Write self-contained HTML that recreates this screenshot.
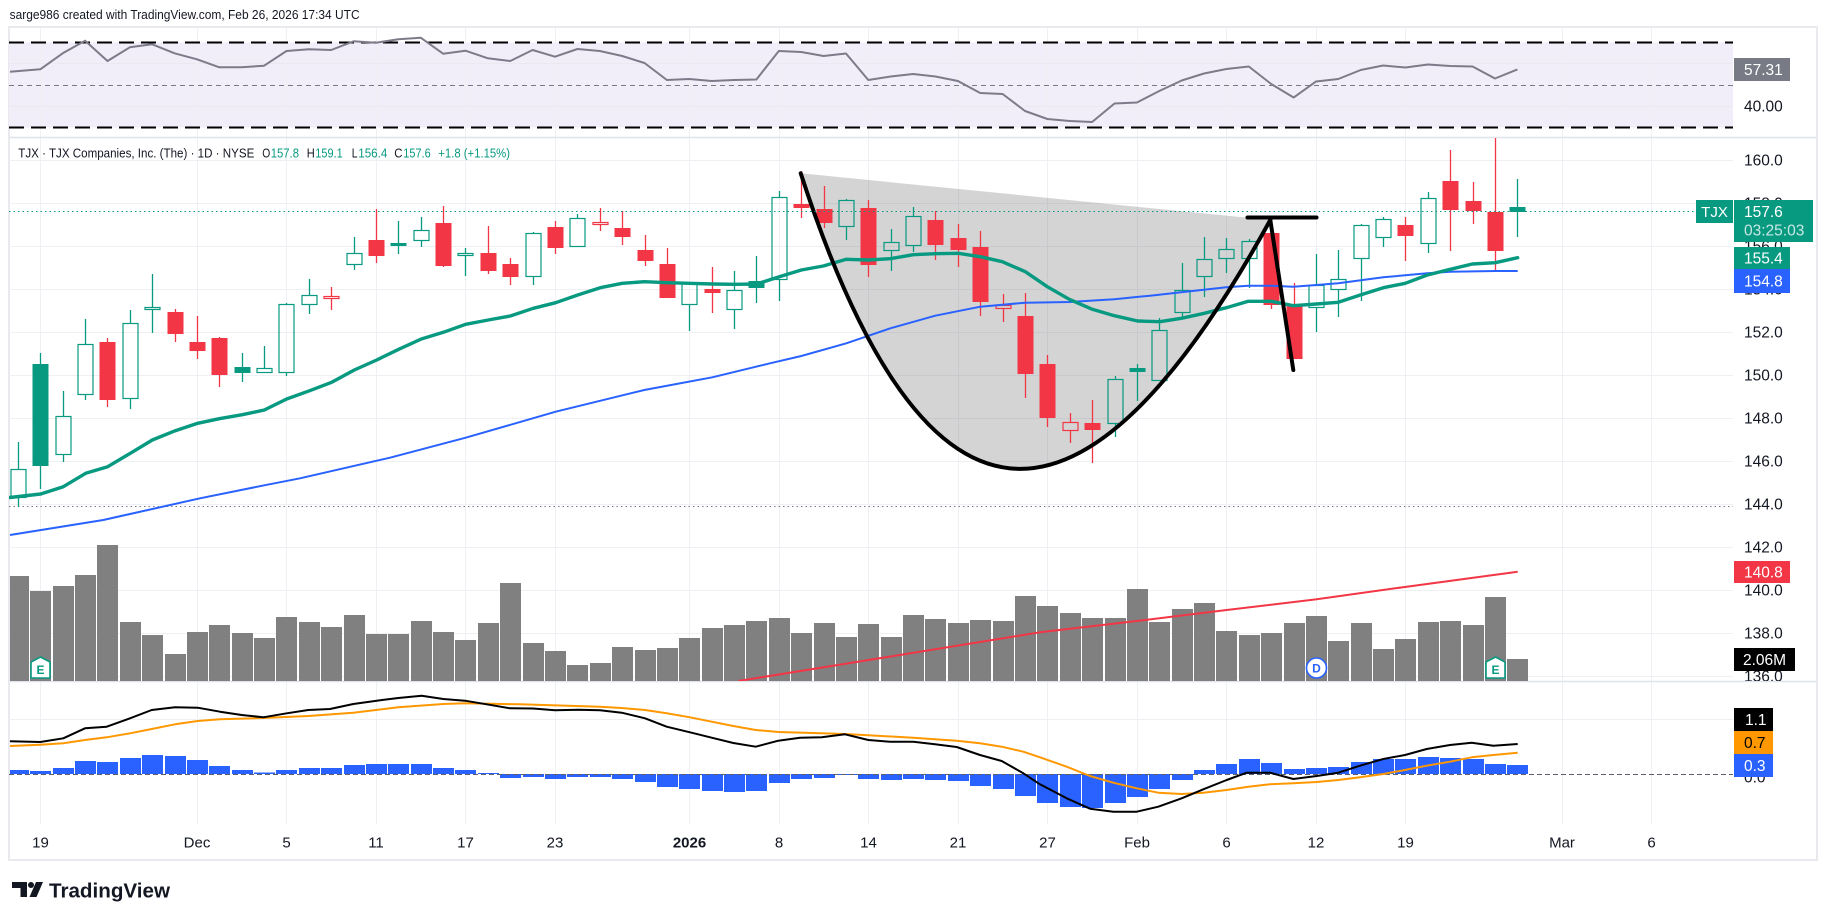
<!DOCTYPE html>
<html>
<head>
<meta charset="utf-8">
<style>
  html,body{margin:0;padding:0;background:#ffffff;}
  svg{display:block;}
  text{font-family:"Liberation Sans",Arial,sans-serif;}
</style>
</head>
<body>
<svg width="1827" height="920" viewBox="0 0 1827 920" xmlns="http://www.w3.org/2000/svg">
  <defs>
    <clipPath id="cRsi"><rect x="9" y="27" width="1724" height="110"/></clipPath>
    <clipPath id="cMain"><rect x="9" y="137" width="1724" height="544"/></clipPath>
    <clipPath id="cMacd"><rect x="9" y="681" width="1724" height="143"/></clipPath>
    <clipPath id="cAxisMain"><rect x="1734" y="137" width="82" height="544"/></clipPath>
  </defs>
  <rect x="0" y="0" width="1827" height="920" fill="#ffffff"/>

  <!-- top caption -->
  <text x="9.6" y="19" font-size="13" fill="#131722" textLength="350" lengthAdjust="spacingAndGlyphs">sarge986 created with TradingView.com, Feb 26, 2026 17:34 UTC</text>

  <!-- chart frame -->
  <rect x="9" y="27" width="1808" height="833" fill="#ffffff" stroke="#e9eaee" stroke-width="2"/>

  <!-- RSI band -->
  <g clip-path="url(#cRsi)">
    <rect x="9" y="42.5" width="1724" height="85" fill="#f2eef9"/>
    <g stroke="#ebe8f0" stroke-width="1">
      <line x1="9" y1="63.5" x2="1733" y2="63.5"/>
      <line x1="9" y1="106.5" x2="1733" y2="106.5"/>
    </g>
  </g>

  <!-- vertical grid lines -->
  <g stroke="#eef0f4" stroke-width="1">
    <line x1="40.5" y1="28" x2="40.5" y2="824"/>
    <line x1="197.5" y1="28" x2="197.5" y2="824"/>
    <line x1="286.5" y1="28" x2="286.5" y2="824"/>
    <line x1="376.5" y1="28" x2="376.5" y2="824"/>
    <line x1="465.5" y1="28" x2="465.5" y2="824"/>
    <line x1="555.5" y1="28" x2="555.5" y2="824"/>
    <line x1="689.5" y1="28" x2="689.5" y2="824"/>
    <line x1="779.5" y1="28" x2="779.5" y2="824"/>
    <line x1="868.5" y1="28" x2="868.5" y2="824"/>
    <line x1="958.5" y1="28" x2="958.5" y2="824"/>
    <line x1="1047.5" y1="28" x2="1047.5" y2="824"/>
    <line x1="1137.5" y1="28" x2="1137.5" y2="824"/>
    <line x1="1226.5" y1="28" x2="1226.5" y2="824"/>
    <line x1="1316.5" y1="28" x2="1316.5" y2="824"/>
    <line x1="1405.5" y1="28" x2="1405.5" y2="824"/>
    <line x1="1562.5" y1="28" x2="1562.5" y2="824"/>
    <line x1="1651.5" y1="28" x2="1651.5" y2="824"/>
  </g>
  <!-- horizontal price grid -->
  <g stroke="#eef0f4" stroke-width="1">
    <line x1="9" y1="160.5" x2="1733" y2="160.5"/>
    <line x1="9" y1="203.5" x2="1733" y2="203.5"/>
    <line x1="9" y1="246.5" x2="1733" y2="246.5"/>
    <line x1="9" y1="289.5" x2="1733" y2="289.5"/>
    <line x1="9" y1="332.5" x2="1733" y2="332.5"/>
    <line x1="9" y1="375.5" x2="1733" y2="375.5"/>
    <line x1="9" y1="418.5" x2="1733" y2="418.5"/>
    <line x1="9" y1="461.5" x2="1733" y2="461.5"/>
    <line x1="9" y1="504.5" x2="1733" y2="504.5"/>
    <line x1="9" y1="547.5" x2="1733" y2="547.5"/>
    <line x1="9" y1="590.5" x2="1733" y2="590.5"/>
    <line x1="9" y1="633.5" x2="1733" y2="633.5"/>
    <line x1="9" y1="676.5" x2="1733" y2="676.5"/>
    <line x1="9" y1="719.5" x2="1733" y2="719.5"/>
  </g>

  <!-- RSI lines -->
  <g clip-path="url(#cRsi)">
    <line x1="9" y1="42.5" x2="1733" y2="42.5" stroke="#000" stroke-width="2" stroke-dasharray="15 7"/>
    <line x1="9" y1="127.5" x2="1733" y2="127.5" stroke="#000" stroke-width="2" stroke-dasharray="15 7"/>
    <line x1="9" y1="85.5" x2="1733" y2="85.5" stroke="#787b86" stroke-width="1" stroke-dasharray="5 4"/>
    <polyline fill="none" stroke="#7d7b89" stroke-width="2" stroke-linejoin="round"
      points="10,71.7 40.3,69.3 62.7,53.3 85.1,40.7 107.5,61 129.8,47.3 152.2,44.3 174.6,53.3 197,59.3 219.3,67.3 241.7,67.3 264.1,65.7 286.5,51 308.9,49.3 331.2,50 353.6,41.3 376,42.7 398.4,39.3 420.7,37.7 443.1,53.7 465.5,50.7 487.9,58.3 510.3,61 532.6,50 555,56.7 577.4,49 599.8,51 622.2,56 644.5,63 666.9,80 689.3,79 711.7,81 734.1,80 756.4,79.5 778.8,51 801.2,52 823.6,56 846,53.5 868.3,80 890.7,76.5 913.1,74 935.5,76.5 957.9,81 980.2,93 1002.6,94 1025,111 1047.4,119 1069.8,121 1092.1,122 1114.5,103.5 1136.9,102.5 1159.3,91 1181.7,80.5 1204,73.5 1226.4,69 1248.8,66.5 1271.2,84 1293.6,97.5 1315.9,81.5 1338.3,79 1360.7,70 1383.1,65.5 1405.5,67.5 1427.8,64.5 1450.2,66 1472.6,66.5 1495,78.5 1517.4,69.4"/>
  </g>

  <!-- pane separators -->
  <line x1="9" y1="137.5" x2="1817" y2="137.5" stroke="#e0e3eb" stroke-width="1.5"/>
  <line x1="9" y1="681.5" x2="1817" y2="681.5" stroke="#e0e3eb" stroke-width="1.5"/>

  <!-- MAIN PANE -->
  <g clip-path="url(#cMain)">
    <!-- volume bars -->
    <g fill="#808080">
      <rect x="10" y="576" width="19" height="105"/>
      <rect x="30" y="591" width="21" height="90"/>
      <rect x="53" y="586" width="21" height="95"/>
      <rect x="75" y="575" width="21" height="106"/>
      <rect x="97" y="545" width="21" height="136"/>
      <rect x="120" y="622" width="21" height="59"/>
      <rect x="142" y="635" width="21" height="46"/>
      <rect x="165" y="654" width="21" height="27"/>
      <rect x="187" y="632" width="21" height="49"/>
      <rect x="209" y="625" width="21" height="56"/>
      <rect x="232" y="633" width="21" height="48"/>
      <rect x="254" y="638" width="21" height="43"/>
      <rect x="276" y="617" width="21" height="64"/>
      <rect x="299" y="622" width="21" height="59"/>
      <rect x="321" y="627" width="21" height="54"/>
      <rect x="344" y="615" width="21" height="66"/>
      <rect x="366" y="634" width="21" height="47"/>
      <rect x="388" y="634" width="21" height="47"/>
      <rect x="411" y="621" width="21" height="60"/>
      <rect x="433" y="632" width="21" height="49"/>
      <rect x="455" y="640" width="21" height="41"/>
      <rect x="478" y="623" width="21" height="58"/>
      <rect x="500" y="583" width="21" height="98"/>
      <rect x="523" y="643" width="21" height="38"/>
      <rect x="545" y="651" width="21" height="30"/>
      <rect x="567" y="665" width="21" height="16"/>
      <rect x="590" y="663" width="21" height="18"/>
      <rect x="612" y="647" width="21" height="34"/>
      <rect x="635" y="650" width="21" height="31"/>
      <rect x="657" y="648" width="21" height="33"/>
      <rect x="679" y="638" width="21" height="43"/>
      <rect x="702" y="628" width="21" height="53"/>
      <rect x="724" y="625" width="21" height="56"/>
      <rect x="746" y="621" width="21" height="60"/>
      <rect x="769" y="618" width="21" height="63"/>
      <rect x="791" y="633" width="21" height="48"/>
      <rect x="814" y="623" width="21" height="58"/>
      <rect x="836" y="637" width="21" height="44"/>
      <rect x="858" y="624" width="21" height="57"/>
      <rect x="881" y="637" width="21" height="44"/>
      <rect x="903" y="615" width="21" height="66"/>
      <rect x="925" y="619" width="21" height="62"/>
      <rect x="948" y="623" width="21" height="58"/>
      <rect x="970" y="620" width="21" height="61"/>
      <rect x="993" y="621" width="21" height="60"/>
      <rect x="1015" y="596" width="21" height="85"/>
      <rect x="1037" y="606" width="21" height="75"/>
      <rect x="1060" y="613" width="21" height="68"/>
      <rect x="1082" y="618" width="21" height="63"/>
      <rect x="1105" y="618" width="21" height="63"/>
      <rect x="1127" y="589" width="21" height="92"/>
      <rect x="1149" y="622" width="21" height="59"/>
      <rect x="1172" y="609" width="21" height="72"/>
      <rect x="1194" y="603" width="21" height="78"/>
      <rect x="1216" y="631" width="21" height="50"/>
      <rect x="1239" y="635" width="21" height="46"/>
      <rect x="1261" y="633" width="21" height="48"/>
      <rect x="1284" y="623" width="21" height="58"/>
      <rect x="1306" y="616" width="21" height="65"/>
      <rect x="1328" y="641" width="21" height="40"/>
      <rect x="1351" y="623" width="21" height="58"/>
      <rect x="1373" y="649" width="21" height="32"/>
      <rect x="1395" y="639" width="21" height="42"/>
      <rect x="1418" y="622" width="21" height="59"/>
      <rect x="1440" y="621" width="21" height="60"/>
      <rect x="1463" y="625" width="21" height="56"/>
      <rect x="1485" y="597" width="21" height="84"/>
      <rect x="1507" y="659" width="21" height="22"/>
    </g>
    <!-- volume MA -->
    <polyline fill="none" stroke="#f23645" stroke-width="2" stroke-linejoin="round"
      points="738.3,681 853.3,662.5 1040,632.3 1136.7,621 1226.7,610 1316.7,599.3 1406.7,586.7 1517.7,571.7"/>

    <!-- cup fill -->
    <path d="M800.7,173.3 Q984.7,740 1270.3,220 Z" fill="rgba(100,100,100,0.28)"/>

    <!-- dotted lines -->
    <line x1="9" y1="506.5" x2="1733" y2="506.5" stroke="#787b86" stroke-width="1" stroke-dasharray="1.5 3"/>

    <!-- green wicks -->
    <path fill="none" stroke="#089981" stroke-width="1.3" d="M18.5,442V469M18.5,498V507 M40.5,353V489 M63.5,391V416M63.5,455V462 M85.5,319V344M85.5,395V400 M130.5,310V323M130.5,399V409 M152.5,274V307M152.5,310V333 M242.5,353V382 M264.5,346V368 M286.5,303V304M286.5,373V376 M309.5,279V295M309.5,305V314 M354.5,237V253M354.5,265V270 M398.5,221V254 M421.5,217V230M421.5,241V247 M465.5,248V253M465.5,256V276 M533.5,232V233M533.5,277V285 M577.5,214V218 M689.5,305V331 M734.5,271V290M734.5,310V329 M756.5,256V303 M779.5,191V197M779.5,280V301 M846.5,199V200M846.5,227V240 M891.5,229V242M891.5,251V271 M913.5,207V216M913.5,246V252 M1115.5,376V379M1115.5,424V437 M1137.5,364V401 M1159.5,318V330 M1182.5,263V290M1182.5,313V318 M1204.5,237V259M1204.5,277V297 M1226.5,238V249M1226.5,259V273 M1249.5,239V241M1249.5,259V288 M1316.5,254V285M1316.5,308V332 M1338.5,250V279M1338.5,290V317 M1361.5,224V225M1361.5,259V301 M1383.5,217V219M1383.5,238V247 M1428.5,192V198M1428.5,244V253 M1517.5,179V237"/>
    <!-- red wicks -->
    <path fill="none" stroke="#f23645" stroke-width="1.3" d="M107.5,338V407 M175.5,309V342 M197.5,316V359 M219.5,337V387 M331.5,287V296M331.5,299V310 M376.5,209V263 M443.5,206V267 M488.5,226V274 M510.5,258V285 M555.5,221V254 M600.5,208V222M600.5,225V231 M622.5,211V245 M645.5,235V266 M667.5,248V298 M712.5,267V313 M801.5,171V218 M824.5,186V228 M868.5,200V277 M935.5,211V260 M958.5,224V267 M980.5,231V316 M1003.5,294V305M1003.5,309V322 M1025.5,293V398 M1047.5,355V427 M1070.5,413V422M1070.5,431V443 M1092.5,400V463 M1271.5,233V309 M1294.5,283V359 M1405.5,217V261 M1450.5,150V251 M1473.5,182V224 M1495.5,138V271"/>

    <!-- filled green bodies -->
    <g fill="#089981">
      <rect x="32.5" y="364" width="16" height="102"/>
      <rect x="234.5" y="367" width="16" height="6"/>
      <rect x="390.5" y="243" width="16" height="3"/>
      <rect x="748.5" y="281" width="16" height="7"/>
      <rect x="1129.5" y="368" width="16" height="4"/>
      <rect x="1509.5" y="207" width="16" height="5"/>
    </g>
    <!-- hollow green bodies -->
    <g fill="none" stroke="#089981" stroke-width="1.2">
      <rect x="11" y="469.5" width="15" height="28"/>
      <rect x="56" y="416.5" width="15" height="38"/>
      <rect x="78" y="344.5" width="15" height="50"/>
      <rect x="123" y="323.5" width="15" height="75"/>
      <rect x="145" y="307.5" width="15" height="2"/>
      <rect x="257" y="368.5" width="15" height="4"/>
      <rect x="279" y="304.5" width="15" height="68"/>
      <rect x="302" y="295.5" width="15" height="9"/>
      <rect x="347" y="253.5" width="15" height="11"/>
      <rect x="414" y="230.5" width="15" height="10"/>
      <rect x="458" y="253.5" width="15" height="2"/>
      <rect x="526" y="233.5" width="15" height="43"/>
      <rect x="570" y="218.5" width="15" height="28"/>
      <rect x="682" y="283.5" width="15" height="21"/>
      <rect x="727" y="290.5" width="15" height="19"/>
      <rect x="772" y="197.5" width="15" height="82"/>
      <rect x="839" y="200.5" width="15" height="26"/>
      <rect x="884" y="242.5" width="15" height="8"/>
      <rect x="906" y="216.5" width="15" height="29"/>
      <rect x="1108" y="379.5" width="15" height="44"/>
      <rect x="1152" y="330.5" width="15" height="50"/>
      <rect x="1175" y="290.5" width="15" height="22"/>
      <rect x="1197" y="259.5" width="15" height="17"/>
      <rect x="1219" y="249.5" width="15" height="9"/>
      <rect x="1242" y="241.5" width="15" height="17"/>
      <rect x="1309" y="285.5" width="15" height="22"/>
      <rect x="1331" y="279.5" width="15" height="10"/>
      <rect x="1354" y="225.5" width="15" height="33"/>
      <rect x="1376" y="219.5" width="15" height="18"/>
      <rect x="1421" y="198.5" width="15" height="45"/>
    </g>
    <!-- filled red bodies -->
    <g fill="#f23645">
      <rect x="99.5" y="342" width="16" height="58"/>
      <rect x="167.5" y="312" width="16" height="22"/>
      <rect x="189.5" y="342" width="16" height="9"/>
      <rect x="211.5" y="338" width="16" height="37"/>
      <rect x="368.5" y="240" width="16" height="16"/>
      <rect x="435.5" y="223" width="16" height="43"/>
      <rect x="480.5" y="253" width="16" height="18"/>
      <rect x="502.5" y="264" width="16" height="13"/>
      <rect x="547.5" y="227" width="16" height="21"/>
      <rect x="614.5" y="228" width="16" height="9"/>
      <rect x="637.5" y="250" width="16" height="11"/>
      <rect x="659.5" y="264" width="16" height="34"/>
      <rect x="704.5" y="289" width="16" height="4"/>
      <rect x="793.5" y="204" width="16" height="4"/>
      <rect x="816.5" y="209" width="16" height="14"/>
      <rect x="860.5" y="208" width="16" height="57"/>
      <rect x="927.5" y="220" width="16" height="25"/>
      <rect x="950.5" y="238" width="16" height="12"/>
      <rect x="972.5" y="247" width="16" height="55"/>
      <rect x="1017.5" y="316" width="16" height="58"/>
      <rect x="1039.5" y="364" width="16" height="54"/>
      <rect x="1084.5" y="423" width="16" height="7"/>
      <rect x="1263.5" y="233" width="16" height="72"/>
      <rect x="1286.5" y="306" width="16" height="53"/>
      <rect x="1397.5" y="225" width="16" height="11"/>
      <rect x="1442.5" y="181" width="16" height="29"/>
      <rect x="1465.5" y="201" width="16" height="10"/>
      <rect x="1487.5" y="212" width="16" height="39"/>
    </g>
    <!-- hollow red bodies -->
    <g fill="none" stroke="#f23645" stroke-width="1.2">
      <rect x="324" y="296.5" width="15" height="2"/>
      <rect x="593" y="222.5" width="15" height="2"/>
      <rect x="996" y="305.5" width="15" height="3"/>
      <rect x="1063" y="422.5" width="15" height="8"/>
    </g>

    <!-- moving averages -->
    <polyline fill="none" stroke="#2962ff" stroke-width="2" stroke-linejoin="round"
      points="10,535 103.3,520 200,498.3 264.3,485.3 300,478.3 390,457.7 465.7,437.7 555.7,411.7 644.3,390 712.3,377.3 770,363.3 801.3,356 846.3,343.3 890.3,328.3 935.3,315.7 980.3,306.7 1025.3,302.7 1069.3,302 1114.3,299.3 1150,295.7 1181.3,292.3 1226.3,287.3 1248.3,285.7 1271.3,285.7 1293.3,286.7 1316.3,285 1338.3,283.3 1383.3,277.3 1427.3,273.3 1450.3,271.7 1495.3,271 1517.7,271"/>
    <polyline fill="none" stroke="#089981" stroke-width="3.4" stroke-linejoin="round" stroke-linecap="round"
      points="10,497.5 40.7,494 63.3,486.7 85.7,473.3 107.7,466.7 130.3,453.3 152.3,440 175.3,430.7 197.7,423.3 219.3,418.7 242.3,414.7 264.3,410 286.7,399 309.7,390.7 331.7,382.3 354.3,370 376.7,360 398.7,349.3 421.3,339 443.3,332.3 465.7,324.3 488.3,320 510.3,316 533.3,308.3 555.7,302.7 577.7,295 600.3,287.7 622.3,283.3 644.3,281.7 667.3,282.7 689.3,283.3 712.3,284 734.3,284.3 756.7,284 779.3,276.7 801.3,270 823.3,266 846.3,259.3 868.3,260 890.3,258.7 913.3,254.7 935.3,253.7 958.3,253.3 980.3,256.7 1002.3,261.7 1025.3,271.7 1047.3,286.7 1069.3,299.3 1092.3,309.3 1114.3,315.7 1137.7,321 1160,321.7 1181.3,318.3 1204.3,313.3 1226.3,307.7 1248.3,301.3 1271.3,301.3 1293.3,305.7 1316.3,304 1338.3,302.3 1360.3,295 1383.3,287.7 1405.3,283.3 1427.3,275 1450.3,269.3 1472.3,264 1495.3,262.7 1517.7,257.7"/>

    <!-- cup & handle drawing -->
    <path d="M800.7,173.3 Q984.7,740 1270.3,220" fill="none" stroke="#000" stroke-width="4" stroke-linecap="round"/>
    <path d="M1270.3,220 L1293.3,370" fill="none" stroke="#000" stroke-width="4" stroke-linecap="round"/>
    <path d="M1247.5,217.5 H1316.5" fill="none" stroke="#000" stroke-width="4" stroke-linecap="round"/>

    <!-- current price line -->
    <line x1="9" y1="211.5" x2="1696" y2="211.5" stroke="#089981" stroke-width="1" stroke-dasharray="1.5 3"/>

    <!-- event markers -->
    <polygon points="40.5,657 50,662 50,678 31,678 31,662" fill="#ffffff" stroke="#089981" stroke-width="1.6"/>
    <text x="40.5" y="674" font-size="12" font-weight="bold" fill="#089981" text-anchor="middle">E</text>
    <circle cx="1316.5" cy="668" r="10" fill="#ffffff" stroke="#2962ff" stroke-width="1.6"/>
    <text x="1316.5" y="672.5" font-size="12" font-weight="bold" fill="#2962ff" text-anchor="middle">D</text>
    <polygon points="1495.5,657 1505,662 1505,678 1486,678 1486,662" fill="#ffffff" stroke="#089981" stroke-width="1.6"/>
    <text x="1495.5" y="674" font-size="12" font-weight="bold" fill="#089981" text-anchor="middle">E</text>
  </g>

  <!-- header legend -->
  <text x="18.3" y="157.5" font-size="12.5" fill="#131722" textLength="236" lengthAdjust="spacingAndGlyphs">TJX · TJX Companies, Inc. (The) · 1D · NYSE</text>
  <text x="262.3" y="157.5" font-size="12.5" fill="#131722" textLength="8" lengthAdjust="spacingAndGlyphs">O</text>
  <text x="270.7" y="157.5" font-size="12.5" fill="#089981" textLength="28.3" lengthAdjust="spacingAndGlyphs">157.8</text>
  <text x="306.7" y="157.5" font-size="12.5" fill="#131722" textLength="8" lengthAdjust="spacingAndGlyphs">H</text>
  <text x="315.3" y="157.5" font-size="12.5" fill="#089981" textLength="27.4" lengthAdjust="spacingAndGlyphs">159.1</text>
  <text x="351.7" y="157.5" font-size="12.5" fill="#131722" textLength="5.8" lengthAdjust="spacingAndGlyphs">L</text>
  <text x="358.3" y="157.5" font-size="12.5" fill="#089981" textLength="29" lengthAdjust="spacingAndGlyphs">156.4</text>
  <text x="394.3" y="157.5" font-size="12.5" fill="#131722" textLength="8.2" lengthAdjust="spacingAndGlyphs">C</text>
  <text x="403.3" y="157.5" font-size="12.5" fill="#089981" textLength="27.4" lengthAdjust="spacingAndGlyphs">157.6</text>
  <text x="438.3" y="157.5" font-size="12.5" fill="#089981" textLength="71.7" lengthAdjust="spacingAndGlyphs">+1.8 (+1.15%)</text>

  <!-- MACD pane -->
  <g clip-path="url(#cMacd)">
    <g fill="#2962ff">
      <rect x="10" y="770" width="19" height="4"/>
      <rect x="30" y="771" width="21" height="3"/>
      <rect x="53" y="768" width="21" height="6"/>
      <rect x="75" y="761" width="21" height="13"/>
      <rect x="97" y="762" width="21" height="12"/>
      <rect x="120" y="758" width="21" height="16"/>
      <rect x="142" y="755" width="21" height="19"/>
      <rect x="165" y="756" width="21" height="18"/>
      <rect x="187" y="760" width="21" height="14"/>
      <rect x="209" y="766" width="21" height="8"/>
      <rect x="232" y="770" width="21" height="4"/>
      <rect x="254" y="772.5" width="21" height="1.5"/>
      <rect x="276" y="770" width="21" height="4"/>
      <rect x="299" y="768" width="21" height="6"/>
      <rect x="321" y="768" width="21" height="6"/>
      <rect x="344" y="765" width="21" height="9"/>
      <rect x="366" y="764" width="21" height="10"/>
      <rect x="388" y="764" width="21" height="10"/>
      <rect x="411" y="764" width="21" height="10"/>
      <rect x="433" y="768" width="21" height="6"/>
      <rect x="455" y="770" width="21" height="4"/>
      <rect x="478" y="773" width="21" height="1"/>
      <rect x="500" y="774" width="21" height="4"/>
      <rect x="523" y="774" width="21" height="3"/>
      <rect x="545" y="774" width="21" height="5"/>
      <rect x="567" y="774" width="21" height="3"/>
      <rect x="590" y="774" width="21" height="3"/>
      <rect x="612" y="774" width="21" height="5"/>
      <rect x="635" y="774" width="21" height="8"/>
      <rect x="657" y="774" width="21" height="13"/>
      <rect x="679" y="774" width="21" height="15"/>
      <rect x="702" y="774" width="21" height="17"/>
      <rect x="724" y="774" width="21" height="18"/>
      <rect x="746" y="774" width="21" height="17"/>
      <rect x="769" y="774" width="21" height="9"/>
      <rect x="791" y="774" width="21" height="5"/>
      <rect x="814" y="774" width="21" height="4"/>
      <rect x="836" y="774" width="21" height="1"/>
      <rect x="858" y="774" width="21" height="5"/>
      <rect x="881" y="774" width="21" height="6"/>
      <rect x="903" y="774" width="21" height="5"/>
      <rect x="925" y="774" width="21" height="6"/>
      <rect x="948" y="774" width="21" height="7"/>
      <rect x="970" y="774" width="21" height="12"/>
      <rect x="993" y="774" width="21" height="15"/>
      <rect x="1015" y="774" width="21" height="22"/>
      <rect x="1037" y="774" width="21" height="29"/>
      <rect x="1060" y="774" width="21" height="33"/>
      <rect x="1082" y="774" width="21" height="34"/>
      <rect x="1105" y="774" width="21" height="29"/>
      <rect x="1127" y="774" width="21" height="23"/>
      <rect x="1149" y="774" width="21" height="15"/>
      <rect x="1172" y="774" width="21" height="6"/>
      <rect x="1194" y="770" width="21" height="4"/>
      <rect x="1216" y="764" width="21" height="10"/>
      <rect x="1239" y="759" width="21" height="15"/>
      <rect x="1261" y="763" width="21" height="11"/>
      <rect x="1284" y="769" width="21" height="5"/>
      <rect x="1306" y="768" width="21" height="6"/>
      <rect x="1328" y="767" width="21" height="7"/>
      <rect x="1351" y="762" width="21" height="12"/>
      <rect x="1373" y="759" width="21" height="15"/>
      <rect x="1395" y="759" width="21" height="15"/>
      <rect x="1418" y="757" width="21" height="17"/>
      <rect x="1440" y="758" width="21" height="16"/>
      <rect x="1463" y="759" width="21" height="15"/>
      <rect x="1485" y="764" width="21" height="10"/>
      <rect x="1507" y="765" width="21" height="9"/>
    </g>
    <line x1="9" y1="774.5" x2="1733" y2="774.5" stroke="#5d606b" stroke-width="1" stroke-dasharray="5 3"/>
    <polyline fill="none" stroke="#ff9800" stroke-width="2" stroke-linejoin="round"
      points="10,746 40.3,744.7 63.3,743.3 85,740 106.7,737.3 130,733.3 151.7,729 175,724.3 197.7,721 220,719.3 263.3,718 308.3,716 353.3,712.7 398.3,707.3 443.3,704 465,703.3 520,704.3 600,706.7 621.7,708 645,710 666.7,713.3 690,717.3 711.7,721.7 733.3,726 755.7,730 778.3,732 821.7,733.3 845,734 868.3,735.3 913.3,737.7 956.7,740.7 980,743.3 1001.7,746.7 1023.3,751.7 1040,757.3 1066.7,766.7 1090,776 1113.3,782.7 1136.7,788.3 1158.3,792.7 1181.7,794 1203.3,792.7 1226.7,790 1248.3,786.7 1270,784.3 1293.3,783.3 1316.7,782 1338.3,780 1360,777.3 1383.3,774 1405,770 1426.7,765.7 1450,761.7 1471.7,757.3 1493.3,755 1517.7,752.7"/>
    <polyline fill="none" stroke="#000000" stroke-width="2" stroke-linejoin="round"
      points="10,741.3 40.3,742 63.3,738.3 85,728.3 106.7,726.7 130,718.3 151.7,710 175,707.3 197.7,707.7 220,711.7 241.7,715 263.3,717.3 286.7,713.3 308.3,710 330,709 353.3,704 376.7,700.7 398.3,698 421.7,695.7 443.3,699 465,700.7 486.7,704.3 510,708.3 533,708.5 555,710.3 578.3,709.7 600,710.3 621.7,712.7 645,718.3 666.7,726.7 690,732.3 711.7,737.7 733.3,743 755.7,746.7 778.3,740.7 800,737.7 821.7,737.3 845,734.3 868.3,740 890,741.7 913.3,741.7 935,744.3 956.7,747 980,755 1001.7,761 1023.3,773.3 1040,784.3 1066.7,798.3 1090,808.7 1113.3,811.7 1136.7,811.7 1158.3,806.7 1181.7,798.3 1203.3,789.3 1226.7,780 1246.7,772.7 1270,772.7 1293.3,779 1316.7,776 1338.3,772.7 1360,765.7 1383.3,759 1405,755 1426.7,749 1450,745 1471.7,742.7 1493.3,745.7 1517.7,744"/>
  </g>

  <!-- RSI axis -->
  <g font-size="15.5" fill="#131722">
    <text x="1744" y="69">60.00</text>
    <text x="1744" y="111.5">40.00</text>
  </g>
  <rect x="1734" y="58" width="56" height="23" fill="#787b86"/>
  <text x="1744" y="75" font-size="15.5" fill="#ffffff">57.31</text>

  <!-- price axis -->
  <g font-size="15.5" fill="#131722" clip-path="url(#cAxisMain)">
    <text x="1744" y="165.5">160.0</text>
    <text x="1744" y="208.5">158.0</text>
    <text x="1744" y="251.5">156.0</text>
    <text x="1744" y="294.5">154.0</text>
    <text x="1744" y="337.5">152.0</text>
    <text x="1744" y="380.5">150.0</text>
    <text x="1744" y="423.5">148.0</text>
    <text x="1744" y="466.5">146.0</text>
    <text x="1744" y="509.5">144.0</text>
    <text x="1744" y="552.5">142.0</text>
    <text x="1744" y="595.5">140.0</text>
    <text x="1744" y="638.5">138.0</text>
    <text x="1744" y="681.5">136.0</text>
  </g>
  <rect x="1696" y="200" width="37" height="23" fill="#089981"/>
  <text x="1714.5" y="217" font-size="15" fill="#ffffff" text-anchor="middle">TJX</text>
  <rect x="1734" y="200" width="79" height="42" fill="#089981"/>
  <text x="1744" y="217" font-size="15.5" fill="#ffffff">157.6</text>
  <text x="1744" y="235.5" font-size="15.5" fill="#ffffff" fill-opacity="0.78">03:25:03</text>
  <rect x="1734" y="247" width="56" height="22" fill="#089981"/>
  <text x="1744" y="263.5" font-size="15.5" fill="#ffffff">155.4</text>
  <rect x="1734" y="269" width="56" height="24" fill="#2962ff"/>
  <text x="1744" y="286.5" font-size="15.5" fill="#ffffff">154.8</text>
  <rect x="1734" y="561" width="56" height="22" fill="#f23645"/>
  <text x="1744" y="577.5" font-size="15.5" fill="#ffffff">140.8</text>
  <rect x="1734" y="648" width="61" height="23" fill="#000000"/>
  <text x="1743" y="665" font-size="15.5" fill="#ffffff">2.06M</text>

  <!-- MACD axis -->
  <text x="1744" y="782.5" font-size="15.5" fill="#131722">0.0</text>
  <rect x="1734" y="708" width="39" height="23" fill="#000000"/>
  <text x="1745" y="725" font-size="15.5" fill="#ffffff">1.1</text>
  <rect x="1734" y="731" width="39" height="23" fill="#ff9800"/>
  <text x="1744" y="748" font-size="15.5" fill="#000000">0.7</text>
  <rect x="1734" y="754" width="39" height="23" fill="#2962ff"/>
  <text x="1744" y="771" font-size="15.5" fill="#ffffff">0.3</text>

  <!-- time axis -->
  <g font-size="15" fill="#131722" text-anchor="middle">
    <text x="40.5" y="847.5">19</text>
    <text x="197" y="847.5">Dec</text>
    <text x="286.5" y="847.5">5</text>
    <text x="376" y="847.5">11</text>
    <text x="465.5" y="847.5">17</text>
    <text x="555" y="847.5">23</text>
    <text x="689.5" y="847.5" font-weight="bold">2026</text>
    <text x="779" y="847.5">8</text>
    <text x="868.5" y="847.5">14</text>
    <text x="958" y="847.5">21</text>
    <text x="1047.5" y="847.5">27</text>
    <text x="1137" y="847.5">Feb</text>
    <text x="1226.5" y="847.5">6</text>
    <text x="1316" y="847.5">12</text>
    <text x="1405.5" y="847.5">19</text>
    <text x="1562" y="847.5">Mar</text>
    <text x="1651.5" y="847.5">6</text>
  </g>

  <!-- TradingView logo -->
  <g fill="#131722">
    <path d="M12,882 H27 V897 H20.5 V888 H12 Z"/>
    <circle cx="31" cy="885" r="3"/>
    <polygon points="36,882 43,882 36.5,897 29.5,897"/>
  </g>
  <text x="49" y="897.5" font-size="20" font-weight="bold" fill="#131722" textLength="121" lengthAdjust="spacingAndGlyphs">TradingView</text>
</svg>
</body>
</html>
